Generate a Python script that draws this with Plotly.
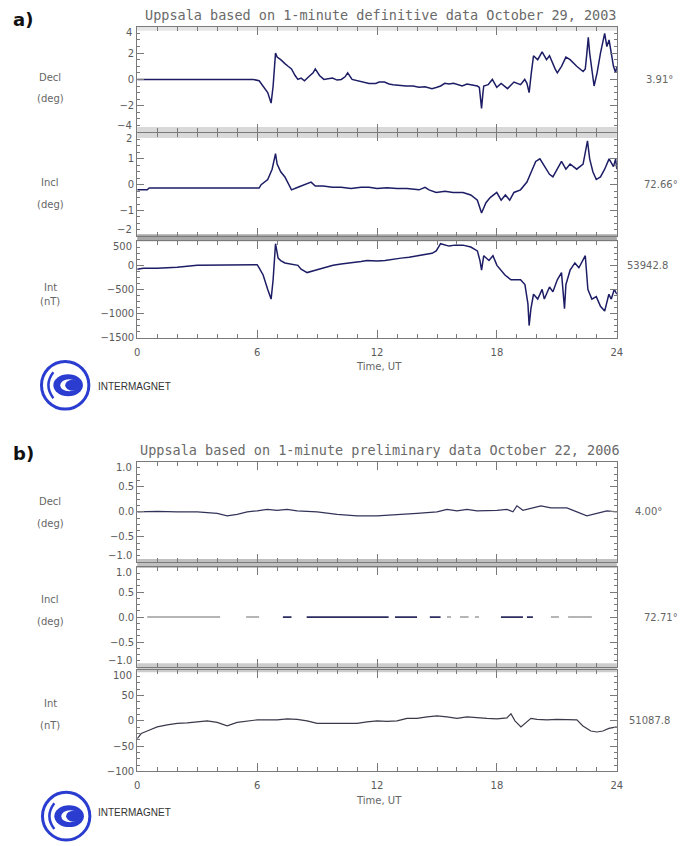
import plotly.graph_objects as go

W, H = 688, 846


def px(x):
    return x / W


def py(y):
    return 1 - y / H


# ---------------- data ----------------
HOUR_TICKS = [0, 6, 12, 18, 24]

# a) October 29, 2003 (storm day), definitive 1-minute data
A_DECL = [
    (0, 0), (1, 0), (2, -0.05), (3, 0), (4, -0.05), (5, 0), (5.8, 0), (6.1, -0.1),
    (6.3, -0.5), (6.53, -1.0), (6.7, -1.8), (6.8, -0.5), (6.92, 2.0), (7.0, 1.7),
    (7.18, 1.5), (7.3, 1.3), (7.39, 1.2), (7.55, 1.0), (7.72, 0.8), (7.9, 0.3),
    (8.04, 0.0), (8.2, 0.1), (8.37, -0.1), (8.58, 0.2), (8.8, 0.5), (8.91, 0.8),
    (9.12, 0.3), (9.34, 0.0), (9.55, 0.05), (9.77, 0.1), (10.0, -0.05), (10.21, 0.0),
    (10.4, 0.2), (10.53, 0.5), (10.75, 0.0), (11.0, -0.1), (11.29, -0.2), (11.6, -0.3),
    (11.94, -0.3), (12.1, -0.2), (12.37, -0.2), (12.6, -0.35), (12.8, -0.4), (13.1, -0.45),
    (13.45, -0.5), (13.8, -0.5), (14.1, -0.6), (14.4, -0.55), (14.75, -0.7), (15.0, -0.6),
    (15.18, -0.5), (15.39, -0.3), (15.6, -0.35), (15.83, -0.3), (16.0, -0.4), (16.26, -0.5),
    (16.5, -0.35), (16.69, -0.4), (17.02, -0.5), (17.12, -0.6), (17.18, -1.5), (17.23, -2.2),
    (17.3, -1.0), (17.34, -0.5), (17.56, -0.4), (17.77, 0.0), (17.99, -0.6), (18.21, -0.3),
    (18.53, -0.7), (18.85, -0.2), (19.18, -0.4), (19.39, 0.0), (19.5, -0.3), (19.61, -1.0),
    (19.72, 0.5), (19.83, 1.8), (20.04, 1.5), (20.26, 2.1), (20.48, 1.5), (20.63, 1.8),
    (20.91, 0.8), (21.02, 0.5), (21.23, 1.0), (21.45, 1.7), (21.66, 1.5), (21.99, 1.0),
    (22.31, 0.6), (22.42, 0.8), (22.5, 2.0), (22.57, 3.2), (22.64, 2.0), (22.86, -0.5),
    (23.01, 0.5), (23.18, 2.0), (23.39, 3.5), (23.5, 2.5), (23.61, 3.0), (23.72, 2.0),
    (23.83, 1.0), (23.94, 0.5), (24.0, 1.0),
]

A_INCL = [
    (0, -0.2), (0.5, -0.2), (0.6, -0.13), (2, -0.13), (4, -0.13), (6.1, -0.13),
    (6.2, 0.0), (6.53, 0.2), (6.75, 0.6), (6.92, 1.2), (7.0, 0.8), (7.18, 0.5),
    (7.39, 0.3), (7.6, 0.0), (7.72, -0.2), (8.04, -0.1), (8.37, 0.0), (8.7, 0.1),
    (8.91, -0.05), (9.3, -0.05), (9.77, -0.1), (10.2, -0.1), (10.7, -0.15), (11.2, -0.1),
    (11.6, -0.1), (12.0, -0.15), (12.5, -0.12), (13.0, -0.15), (13.5, -0.15), (14.1, -0.2),
    (14.4, -0.1), (14.6, -0.2), (14.96, -0.3), (15.4, -0.25), (15.8, -0.3), (16.3, -0.3),
    (16.69, -0.4), (17.02, -0.6), (17.23, -1.1), (17.45, -0.7), (17.66, -0.5), (17.99, -0.3),
    (18.21, -0.6), (18.42, -0.4), (18.64, -0.6), (18.85, -0.3), (19.18, -0.2), (19.5, 0.1),
    (19.72, 0.5), (19.94, 0.9), (20.15, 1.0), (20.37, 0.7), (20.63, 0.4), (20.8, 0.3),
    (21.02, 0.6), (21.23, 0.9), (21.45, 0.6), (21.66, 0.8), (21.99, 0.6), (22.31, 0.8),
    (22.53, 1.7), (22.64, 1.0), (22.8, 0.5), (22.97, 0.2), (23.18, 0.3), (23.39, 0.6),
    (23.61, 1.0), (23.83, 0.7), (23.94, 1.0), (24.0, 0.6),
]

A_INT = [
    (0, -80), (0.3, -60), (1, -60), (2, -40), (3, 0), (4, 10), (5, 15), (6.0, 15),
    (6.1, -50), (6.3, -200), (6.53, -500), (6.7, -700), (6.8, -300), (6.92, 450),
    (7.05, 150), (7.18, 100), (7.39, 50), (7.7, 20), (8.04, 0), (8.2, -80), (8.5, -150),
    (8.91, -100), (9.3, -50), (9.8, 0), (10.2, 30), (10.7, 50), (11.2, 80), (11.5, 100),
    (12.0, 90), (12.4, 100), (12.8, 130), (13.2, 150), (13.6, 170), (14.1, 200),
    (14.5, 230), (14.75, 250), (14.96, 300), (15.18, 450), (15.6, 400), (15.9, 420),
    (16.3, 420), (16.69, 380), (17.02, 300), (17.15, 100), (17.23, -100), (17.34, 200),
    (17.6, 100), (17.8, 200), (18.0, 0), (18.4, -200), (18.7, -300), (19.18, -300),
    (19.4, -400), (19.55, -800), (19.61, -1250), (19.7, -900), (19.83, -600), (20.04, -700),
    (20.26, -500), (20.37, -700), (20.63, -450), (20.8, -550), (21.02, -300), (21.23, -150),
    (21.38, -900), (21.45, -400), (21.66, -100), (21.9, 50), (22.1, -50), (22.42, 200),
    (22.55, -500), (22.75, -700), (22.97, -650), (23.18, -850), (23.39, -950), (23.6, -600),
    (23.72, -700), (23.87, -500), (24.0, -600),
]

# b) October 22, 2006 (quiet day), preliminary 1-minute data
B_DECL = [
    (0, 0.0), (1, 0.01), (2, 0.0), (3, 0.0), (4, -0.03), (4.5, -0.08), (5, -0.05),
    (5.5, 0.0), (6, 0.02), (6.5, 0.05), (7, 0.03), (7.5, 0.05), (8, 0.02), (9, 0.0),
    (10, -0.05), (11, -0.08), (12, -0.08), (13, -0.06), (14, -0.03), (15, 0.0),
    (15.5, 0.05), (16, 0.02), (16.5, 0.05), (17, 0.02), (18, 0.03), (18.5, 0.05),
    (18.8, 0.0), (19, 0.12), (19.3, 0.03), (19.8, 0.08), (20.2, 0.12), (20.7, 0.08),
    (21.5, 0.08), (22, 0.0), (22.5, -0.08), (23, -0.03), (23.5, 0.02), (24, 0.0),
]

# Inclination trace: flat at 0.0 with gaps (start, end hours of each drawn piece)
B_INCL_LEVEL = 0.0
B_INCL_LIGHT = [(0.5, 4.15), (5.45, 6.1), (15.5, 15.7), (16.15, 16.58),
                (16.9, 17.1), (20.7, 21.1), (21.56, 22.75)]
B_INCL_DARK = [(7.29, 7.72), (8.48, 12.58), (12.9, 14.0), (14.64, 15.18),
               (18.2, 19.3), (19.5, 19.8)]

B_INT = [
    (0, -35), (0.2, -25), (0.5, -20), (1, -12), (1.5, -8), (2, -5), (2.5, -4), (3, -2),
    (3.5, 0), (4, -3), (4.5, -10), (5, -3), (5.5, 0), (6, 2), (7, 2), (7.5, 4), (8, 3),
    (8.5, 0), (9, -5), (10, -5), (11, -5), (11.5, -2), (12, 0), (12.5, -1), (13, 0),
    (13.5, 5), (14, 5), (14.5, 8), (15, 10), (15.5, 8), (16, 5), (16.5, 8), (17, 6),
    (17.5, 5), (18, 4), (18.5, 6), (18.7, 14), (18.9, 0), (19.2, -12), (19.4, -5),
    (19.7, 5), (20, 3), (20.5, 2), (21, 3), (21.5, 2), (22, 2), (22.3, -10), (22.7, -20),
    (23, -22), (23.3, -20), (23.6, -15), (24, -12),
]

PANEL_NAMES = ["Decl", "Incl", "Int", "Decl", "Incl", "Int"]
PANEL_UNITS = ["(deg)", "(deg)", "(nT)", "(deg)", "(deg)", "(nT)"]
BASE_VALUES = ["3.91°", "72.66°", "53942.8", "4.00°", "72.71°", "51087.8"]
Y_RANGES = [(-4, 4), (-2, 2), (-1500, 500), (-1.0, 1.0), (-1.0, 1.0), (-100, 100)]
Y_DTICK = [2, 1, 500, 0.5, 0.5, 50]
Y_FORMAT = ["d", "d", "d", ".1f", ".1f", "d"]
LOWEST_PANEL = [False, False, True, False, False, True]

TITLE_A = "Uppsala based on 1-minute definitive data October 29, 2003"
TITLE_B = "Uppsala based on 1-minute preliminary data October 22, 2006"

# ---------------- layout geometry (pixels) ----------------
PLOT_L, PLOT_R = 136, 622
PANEL_PX = [(27, 133), (134, 238), (243, 340), (465, 566), (571, 672), (675, 777)]
VALUE_X = [650, 647, 630, 638, 647, 632]

NAVY = "#1d1d66"
GREY_TXT = "#5a5a5a"
AX = "#7a7a7a"

fig = go.Figure()


def add_line(pairs, i, color=NAVY, width=1.5):
    t = [p[0] for p in pairs]
    v = [p[1] for p in pairs]
    fig.add_trace(go.Scatter(x=t, y=v, mode="lines",
                             line=dict(color=color, width=width),
                             xaxis="x" if i == 1 else f"x{i}",
                             yaxis="y" if i == 1 else f"y{i}",
                             showlegend=False, hoverinfo="skip"))


def add_segments(segs, level, i, color, width):
    xs, ys = [], []
    for a, b in segs:
        xs += [a, b, None]
        ys += [level, level, None]
    fig.add_trace(go.Scatter(x=xs, y=ys, mode="lines",
                             line=dict(color=color, width=width),
                             xaxis=f"x{i}", yaxis=f"y{i}",
                             showlegend=False, hoverinfo="skip", connectgaps=False))


add_line(A_DECL, 1)
add_line(A_INCL, 2)
add_line(A_INT, 3)
add_line(B_DECL, 4, color="#33335a", width=1.2)
add_segments(B_INCL_LIGHT, B_INCL_LEVEL, 5, "#b5b5b5", 2)
add_segments(B_INCL_DARK, B_INCL_LEVEL, 5, "#2c2c60", 1.6)
add_line(B_INT, 6, color="#3a3a4a", width=1.2)

layout = dict(
    width=W, height=H,
    margin=dict(l=0, r=0, t=0, b=0),
    paper_bgcolor="white",
    plot_bgcolor="rgba(0,0,0,0)",
    showlegend=False,
)

tick_font = dict(family="DejaVu Sans", size=10, color=GREY_TXT)


def fmt(v, f):
    s = f"{v:.1f}" if f == ".1f" else str(int(round(v)))
    return s.replace("-", "\u2212")


ann = []

for i in range(1, 7):
    top, bot = PANEL_PX[i - 1]
    k = "" if i == 1 else str(i)
    lo, hi = Y_RANGES[i - 1]
    d = Y_DTICK[i - 1]
    f = Y_FORMAT[i - 1]
    n = int(round((hi - lo) / d))
    allv = [lo + j * d for j in range(n + 1)]
    inner = allv[1:-1] + ([lo] if LOWEST_PANEL[i - 1] else [])
    layout[f"xaxis{k}"] = dict(
        domain=[px(PLOT_L), px(PLOT_R)], range=[0, 24], anchor=f"y{k}",
        tickmode="array", tickvals=HOUR_TICKS, ticktext=[str(h) for h in HOUR_TICKS],
        ticks="inside", ticklen=8, tickcolor=AX, tickwidth=1,
        minor=dict(dtick=1, tick0=0, ticks="inside", ticklen=4, tickcolor=AX),
        showline=True, linecolor=AX, linewidth=1, mirror="ticks",
        showgrid=False, zeroline=False, ticklabelstandoff=5,
        showticklabels=LOWEST_PANEL[i - 1], tickfont=tick_font,
    )
    layout[f"yaxis{k}"] = dict(
        domain=[py(bot), py(top)], range=[lo, hi], anchor=f"x{k}",
        tickmode="array", tickvals=allv, ticktext=[fmt(v, f) if v in inner else "" for v in allv],
        ticks="inside", ticklen=7, tickcolor=AX,
        minor=dict(dtick=d / 4, tick0=lo, ticks="inside", ticklen=3, tickcolor=AX),
        showline=True, linecolor=AX, linewidth=1, mirror="ticks",
        showgrid=False, zeroline=False, tickfont=tick_font,
    )
    # edge labels pulled inside the panel, as in the stacked original
    ann.append(dict(text=fmt(hi, f), x=px(PLOT_L - 3), y=hi, xref="paper", yref=f"y{k}",
                    showarrow=False, font=tick_font, xanchor="right", yanchor="top",
                    yshift=2))
    if not LOWEST_PANEL[i - 1]:
        ann.append(dict(text=fmt(lo, f), x=px(PLOT_L - 3), y=lo, xref="paper", yref=f"y{k}",
                        showarrow=False, font=tick_font, xanchor="right", yanchor="bottom",
                        yshift=-1))

fig.update_layout(**layout)

title_font = dict(family="DejaVu Sans Mono", size=13.5, color="#6a6a6a")
ann.append(dict(text=TITLE_A, x=px(382), y=py(15), xref="paper", yref="paper",
                showarrow=False, font=title_font, xanchor="center", yanchor="middle"))
ann.append(dict(text=TITLE_B, x=px(382), y=py(453), xref="paper", yref="paper",
                showarrow=False, font=title_font, xanchor="center", yanchor="middle"))
ann.append(dict(text="<b>a)</b>", x=px(8), y=py(20), xref="paper", yref="paper",
                showarrow=False, font=dict(family="DejaVu Sans", size=18, color="#111"),
                xanchor="left", yanchor="middle"))
ann.append(dict(text="<b>b)</b>", x=px(8), y=py(457), xref="paper", yref="paper",
                showarrow=False, font=dict(family="DejaVu Sans", size=18, color="#111"),
                xanchor="left", yanchor="middle"))

lab_font = dict(family="DejaVu Sans", size=10, color="#666666")
for i in range(1, 7):
    top, bot = PANEL_PX[i - 1]
    c = (top + bot) / 2
    k = "" if i == 1 else str(i)
    ann.append(dict(text=PANEL_NAMES[i - 1], x=px(48), y=py(c - 10), xref="paper",
                    yref="paper", showarrow=False, font=lab_font, xanchor="center"))
    ann.append(dict(text=PANEL_UNITS[i - 1], x=px(48), y=py(c + 12), xref="paper",
                    yref="paper", showarrow=False, font=lab_font, xanchor="center"))
    ann.append(dict(text=BASE_VALUES[i - 1], x=px(VALUE_X[i - 1]), y=0, xref="paper",
                    yref=f"y{k}", showarrow=False, font=lab_font, xanchor="left"))

for ty in (369, 806):
    ann.append(dict(text="Time, UT", x=px(381), y=py(ty), xref="paper", yref="paper",
                    showarrow=False, font=lab_font, xanchor="center", yanchor="middle"))

for ly in (389, 826):
    ann.append(dict(text="INTERMAGNET", x=px(94), y=py(ly), xref="paper", yref="paper",
                    showarrow=False, xanchor="left",
                    font=dict(family="Liberation Sans", size=10, color="#333333")))

fig.update_layout(annotations=ann)

# ---- grey bands between stacked panels & logos ----
shapes = []


def band(y0, y1, color):
    shapes.append(dict(type="rect", xref="paper", yref="paper",
                       x0=px(PLOT_L), x1=px(PLOT_R), y0=py(y1), y1=py(y0),
                       fillcolor=color, line=dict(width=0), layer="below"))


band(27, 31, "#e6e6e6")
band(128, 139, "#d9d9d9")
band(236, 243, "#a8a8a8")
band(563, 572, "#c0c0c0")
band(668, 677, "#cccccc")

BLUE = "#2b3dd0"


def ell(cx, cy, rx, ry, fill=None, lw=0, lc=BLUE):
    shapes.append(dict(type="circle", xref="paper", yref="paper",
                       x0=px(cx - rx), x1=px(cx + rx), y0=py(cy + ry), y1=py(cy - ry),
                       fillcolor=fill if fill else "rgba(0,0,0,0)",
                       line=dict(color=lc, width=lw)))


def logo(cx, cy):
    ell(cx, cy, 24, 24, None, 3)
    ell(cx + 3, cy, 15, 11, BLUE)
    ell(cx + 4, cy, 9, 6, "white")
    ell(cx + 7, cy, 7, 5.5, BLUE)
    path = (f"M {px(cx - 12)},{py(cy - 13)} Q {px(cx - 22)},{py(cy)} {px(cx - 12)},{py(cy + 13)}")
    shapes.append(dict(type="path", path=path, xref="paper", yref="paper",
                       line=dict(color=BLUE, width=2.5)))


logo(63, 388)
logo(64, 822)

fig.update_layout(shapes=shapes)

fig.write_html("out.html")
